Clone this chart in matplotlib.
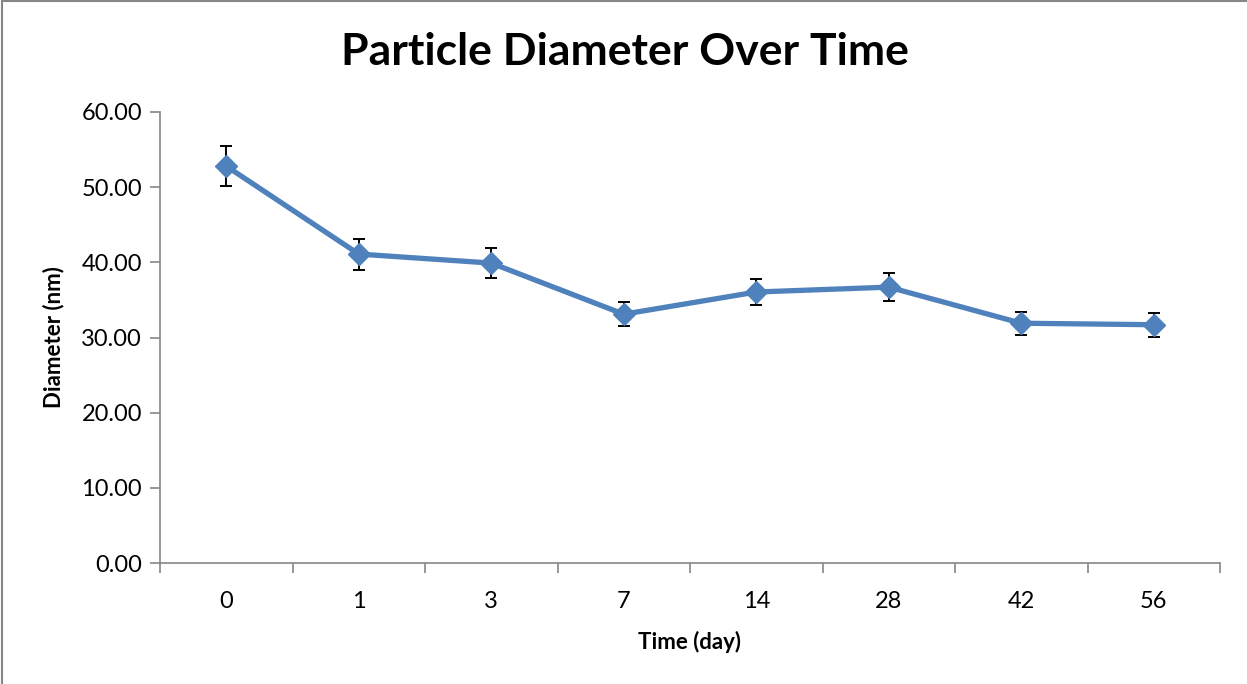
import numpy as np
import matplotlib.pyplot as plt
from matplotlib.patches import Rectangle

# Particle size measurements
days = ["0", "1", "3", "7", "14", "28", "42", "56"]
diameter = [52.8, 41.1, 39.9, 33.1, 36.05, 36.7, 31.9, 31.7]
diameter_err = [2.66, 2.06, 1.97, 1.6, 1.78, 1.82, 1.55, 1.6]

plt.rcParams['font.family'] = ['Lato', 'DejaVu Sans']

fig = plt.figure(figsize=(12.47, 6.84), dpi=100)
ax = fig.add_axes([160 / 1247, 1 - 563 / 684, 1060 / 1247, 451 / 684])

x = np.arange(len(days))
ax.errorbar(x, diameter, yerr=diameter_err, color='#4F81BD', lw=3.8,
            marker='D', markersize=11, ecolor='black', elinewidth=1.4,
            capsize=4.5, capthick=1.4, zorder=3)

ax.set_xlim(-0.5, len(days) - 0.5)
ax.set_ylim(0, 60)
ax.set_yticks(np.arange(0, 61, 10))
ax.set_yticklabels([f"{v:.2f}" for v in np.arange(0, 61, 10)])

# category labels centred, tick marks on the boundaries
ax.set_xticks(np.arange(-0.5, len(days), 1.0))
ax.set_xticklabels([])
ax.set_xticks(x, minor=True)
ax.set_xticklabels(days, minor=True)
ax.tick_params(axis='x', which='minor', length=0, pad=20, labelsize=17)
ax.tick_params(axis='x', which='major', length=7, width=1.2, color='#868686', direction='out')
ax.tick_params(axis='y', length=7, width=1.2, color='#868686', direction='out', labelsize=17, pad=6)

for side in ['top', 'right']:
    ax.spines[side].set_visible(False)
for side in ['left', 'bottom']:
    ax.spines[side].set_color('#868686')
    ax.spines[side].set_linewidth(1.2)

ax.set_xlabel("Time (day)", fontsize=16, fontweight='bold', labelpad=14)
ax.set_ylabel("Diameter (nm)", fontsize=16, fontweight='bold', labelpad=12)
fig.text(625 / 1247, 1 - 52 / 684, "Particle Diameter Over Time", fontsize=32,
         fontweight='bold', ha='center', va='center')

# chart area border
fig.patches.append(Rectangle((0.002, -0.01), 1.1, 1.008, transform=fig.transFigure,
                             fill=False, edgecolor='#868686', lw=1.5))

fig.savefig("out.png", dpi=100)
